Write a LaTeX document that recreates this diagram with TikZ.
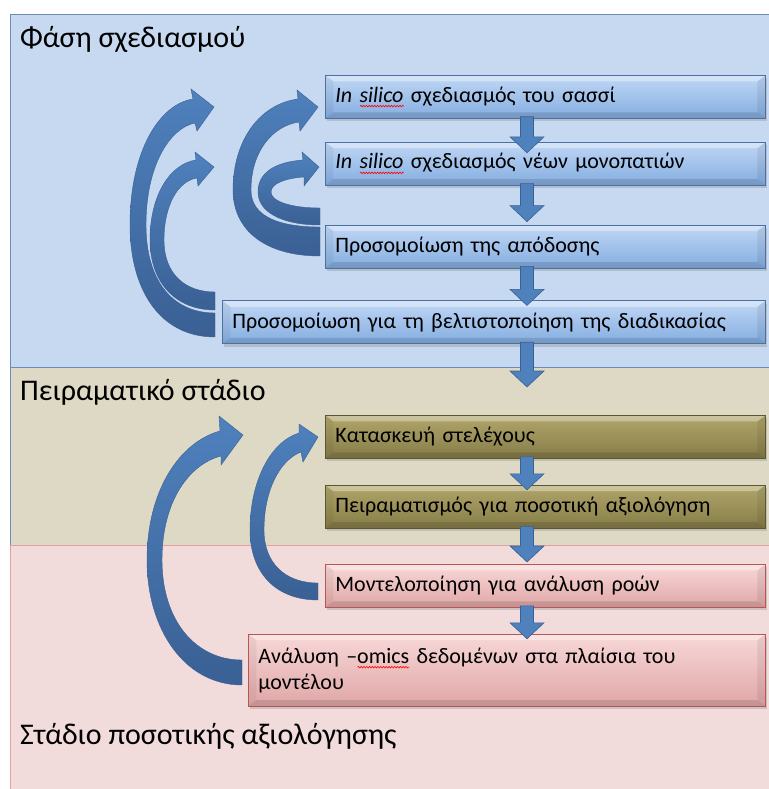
\documentclass[tikz,border=0pt]{standalone}
\usepackage{fontspec}
\setmainfont{Carlito}
\usepackage{tikz}
\usetikzlibrary{positioning, calc, shadows, decorations.pathmorphing}

\definecolor{bandblue}{RGB}{198,217,240}
\definecolor{bandblueline}{RGB}{110,140,185}
\definecolor{bandkhaki}{RGB}{221,217,196}
\definecolor{bandpink}{RGB}{242,220,219}
\definecolor{bandpinkline}{RGB}{226,160,160}
\definecolor{boxblueT}{RGB}{192,215,245}
\definecolor{boxblueB}{RGB}{132,173,224}
\definecolor{boxblueline}{RGB}{78,112,160}
\definecolor{boxkhakiT}{RGB}{176,166,106}
\definecolor{boxkhakiB}{RGB}{134,124,72}
\definecolor{boxkhakiline}{RGB}{92,86,50}
\definecolor{boxpinkT}{RGB}{248,216,216}
\definecolor{boxpinkB}{RGB}{224,166,166}
\definecolor{boxpinkline}{RGB}{185,85,85}
\definecolor{arrowblue}{RGB}{79,129,189}
\definecolor{arrowdark}{RGB}{58,96,148}

% red wavy spell-check mark under a word
\newcommand{\spellmark}[1]{\leavevmode\setbox0=\hbox{#1}%
  \rlap{\tikz[baseline=0pt]\draw[red, line width=0.6pt, decorate,
    decoration={snake, amplitude=0.8pt, segment length=2.8pt}] (0pt,-4pt) -- (\wd0,-4pt);}%
  \box0\relax}

% block arrow going down between two stacked boxes
\newcommand{\blockdown}[3]{%
  \path ($(#1.south -| xcol)+(0,2)$) coordinate (ds)
        ($(#2.north -| xcol)-(0,#3)$) coordinate (dt);
  \filldraw[downarr] ([xshift=-6.5pt]ds) -- ([xshift=-6.5pt,yshift=16pt]dt)
    -- ([xshift=-17pt,yshift=16pt]dt) -- (dt) -- ([xshift=17pt,yshift=16pt]dt)
    -- ([xshift=6.5pt,yshift=16pt]dt) -- ([xshift=6.5pt]ds) -- cycle;}

\begin{document}
\begin{tikzpicture}[
    x=1pt, y=1pt,
    every node/.style={font=\fontsize{22}{26}\selectfont},
    band/.style={rectangle, anchor=north west, minimum width=780pt, inner sep=0pt},
    phase/.style={anchor=base west, inner sep=0pt, font=\fontsize{30}{34}\selectfont},
    box/.style={rectangle, anchor=north west, align=left, inner xsep=10pt, inner ysep=0pt,
                minimum height=43pt, line width=0.8pt,
                drop shadow={shadow xshift=1.5pt, shadow yshift=-3pt, opacity=0.3},
                path picture={
                  \fill[white, opacity=0.35] (path picture bounding box.north west)
                    -- (path picture bounding box.north east)
                    -- ([xshift=-8pt,yshift=-6pt]path picture bounding box.north east)
                    -- ([xshift=8pt,yshift=-6pt]path picture bounding box.north west) -- cycle;
                  \fill[black, opacity=0.12] (path picture bounding box.south west)
                    -- (path picture bounding box.south east)
                    -- ([xshift=-8pt,yshift=6pt]path picture bounding box.south east)
                    -- ([xshift=8pt,yshift=6pt]path picture bounding box.south west) -- cycle;
                  \fill[black, opacity=0.07] (path picture bounding box.north east)
                    -- (path picture bounding box.south east)
                    -- ([xshift=-8pt,yshift=6pt]path picture bounding box.south east)
                    -- ([xshift=-8pt,yshift=-6pt]path picture bounding box.north east) -- cycle;
                  \fill[black, opacity=0.05] (path picture bounding box.north west)
                    -- (path picture bounding box.south west)
                    -- ([xshift=8pt,yshift=6pt]path picture bounding box.south west)
                    -- ([xshift=8pt,yshift=-6pt]path picture bounding box.north west) -- cycle;
                }},
    bluebox/.style={box, draw=boxblueline, top color=boxblueT, bottom color=boxblueB},
    khakibox/.style={box, draw=boxkhakiline, top color=boxkhakiT, bottom color=boxkhakiB},
    pinkbox/.style={box, draw=boxpinkline, top color=boxpinkT, bottom color=boxpinkB},
    loop/.style={top color=arrowblue, bottom color=arrowdark, draw=arrowdark, line width=0.4pt},
    downarr/.style={fill=arrowblue, draw=arrowdark, line width=0.6pt, line join=miter}
]
\useasboundingbox (0,0) rectangle (768,-789);
\fill[white] (0,0) rectangle (768,-789);

% Bands
\node[band, fill=bandblue, draw=bandblueline, minimum height=353pt] (designband) at (10,-14) {};
\node[band, fill=bandkhaki, draw=bandblueline, minimum height=178pt] (expband) at (10,-367) {};
\node[band, fill=bandpink, draw=bandpinkline, minimum height=260pt] (quantband) at (10,-545) {};

\node[phase] (designtitle) at (20,-48) {Φάση σχεδιασμού};
\node[phase] (exptitle) at (20,-400) {Πειραματικό στάδιο};
\node[phase] (quanttitle) at (20,-744) {Στάδιο ποσοτικής αξιολόγησης};

% Feedback loops, design phase
\path[loop] (215,-337) .. controls (160,-337) and (130,-290) .. (130,-225)
  .. controls (130,-150) and (160,-104) .. (193,-99) -- (191,-89) -- (214,-107)
  -- (197,-131) -- (195,-123) .. controls (170,-128) and (146,-165) .. (146,-225)
  .. controls (146,-280) and (172,-313) .. (215,-313) -- cycle;
\path[loop] (215,-310) .. controls (175,-310) and (150,-282) .. (150,-240)
  .. controls (150,-195) and (170,-164) .. (196,-160) -- (195,-152) -- (214,-167)
  -- (198,-186) -- (197,-178) .. controls (178,-181) and (164,-205) .. (164,-240)
  .. controls (164,-274) and (185,-292) .. (215,-292) -- cycle;
\path[loop] (320,-256) .. controls (265,-256) and (233,-230) .. (233,-190)
  .. controls (233,-140) and (260,-104) .. (298,-99) -- (297,-90) -- (318,-107)
  -- (300,-131) -- (299,-122) .. controls (272,-126) and (251,-152) .. (251,-190)
  .. controls (251,-217) and (280,-227) .. (320,-227) -- cycle;
\path[loop] (320,-225) .. controls (282,-225) and (258,-212) .. (258,-192)
  .. controls (258,-172) and (276,-162) .. (303,-160) -- (302,-152) -- (319,-167)
  -- (304,-186) -- (304,-177) .. controls (287,-178) and (271,-183) .. (271,-192)
  .. controls (271,-201) and (290,-208) .. (320,-208) -- cycle;

% Feedback loops, experimental and quantitative stages
\path[loop] (242,-685) .. controls (185,-685) and (147,-630) .. (147,-560)
  .. controls (147,-490) and (180,-442) .. (220,-431) -- (219,-416) -- (243,-435)
  -- (221,-465) -- (221,-456) .. controls (190,-464) and (162,-500) .. (162,-560)
  .. controls (162,-620) and (195,-660) .. (242,-660) -- cycle;
\path[loop] (318,-600) .. controls (275,-600) and (250,-572) .. (250,-530)
  .. controls (250,-482) and (270,-442) .. (299,-433) -- (299,-424) -- (318,-437)
  -- (303,-462) -- (301,-452) .. controls (280,-460) and (264,-490) .. (264,-530)
  .. controls (264,-563) and (285,-583) .. (318,-583) -- cycle;

% Design phase boxes
\node[bluebox, text width=420pt] (chassis) at (325,-75)
  {{\itshape In \spellmark{silico}} σχεδιασμός του σασσί};
\node[bluebox, text width=420pt, below=23pt of chassis.south west, anchor=north west] (pathways)
  {{\itshape In \spellmark{silico}} σχεδιασμός νέων μονοπατιών};
\node[bluebox, text width=420pt, below=39pt of pathways.south west, anchor=north west] (yield)
  {Προσομοίωση της απόδοσης};
\node[bluebox, text width=523pt, below=32pt of yield.south east, anchor=north east] (process)
  {Προσομοίωση για τη βελτιστοποίηση της διαδικασίας};

% Experimental stage boxes
\node[khakibox, text width=420pt] (strain) at (325,-415) {Κατασκευή στελέχους};
\node[khakibox, text width=420pt, below=26pt of strain.south west, anchor=north west] (experiment)
  {Πειραματισμός για ποσοτική αξιολόγηση};

% Quantitative stage boxes
\node[pinkbox, text width=420pt] (fluxes) at (325,-564) {Μοντελοποίηση για ανάλυση ροών};
\node[pinkbox, text width=497pt, minimum height=72pt, below=26pt of fluxes.south east, anchor=north east] (omics)
  {Ανάλυση –\spellmark{omics} δεδομένων στα πλαίσια του\\μοντέλου};

% Down arrows
\coordinate (xcol) at (527,0);
\blockdown{chassis}{pathways}{11}
\blockdown{pathways}{yield}{-3}
\blockdown{yield}{process}{5}
\blockdown{process}{expband}{20}
\blockdown{strain}{experiment}{5}
\blockdown{experiment}{fluxes}{-2}
\blockdown{fluxes}{omics}{5}

\end{tikzpicture}
\end{document}
